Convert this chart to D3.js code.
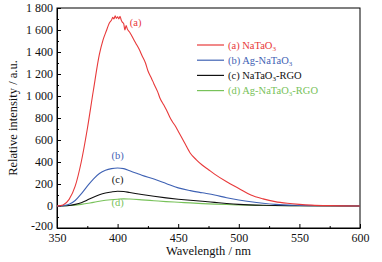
<!DOCTYPE html>
<html>
<head>
<meta charset="utf-8">
<script src="https://cdn.jsdelivr.net/npm/d3@7"></script>
<style>
  body { margin: 0; background: #fff; }
</style>
</head>
<body>
<div id="chart"></div>
<script>
'use strict';

// wavelengths (nm) and intensities
const waveA = [350, 355, 360, 365, 370, 375, 380, 385, 388, 391, 393, 395, 396, 397, 398, 399, 400, 401, 402, 403, 404, 405, 406, 407, 408, 410, 412, 415, 418, 420, 423, 425, 428, 430, 433, 435, 438, 440, 443, 445, 448, 450, 455, 460, 465, 470, 475, 480, 490, 500, 510, 520, 530, 540, 550, 560, 575, 600];
const valA  = [0, 10, 60, 180, 400, 700, 1050, 1380, 1510, 1600, 1660, 1690, 1715, 1700, 1730, 1705, 1720, 1700, 1725, 1690, 1670, 1660, 1600, 1640, 1610, 1580, 1540, 1480, 1420, 1370, 1300, 1230, 1160, 1110, 1040, 980, 920, 880, 810, 770, 720, 680, 580, 480, 420, 370, 330, 290, 220, 160, 100, 65, 40, 25, 15, 8, 3, 0];

const waveB = [350, 355, 360, 365, 370, 375, 380, 385, 390, 395, 400, 405, 410, 415, 420, 430, 440, 450, 460, 470, 480, 490, 500, 510, 520, 530, 550, 575, 600];
const valB  = [0, 3, 15, 50, 110, 180, 245, 295, 325, 340, 345, 340, 320, 300, 280, 245, 205, 165, 140, 120, 100, 75, 55, 38, 25, 15, 6, 2, 0];

const waveC = [350, 360, 365, 370, 375, 380, 385, 390, 395, 400, 405, 410, 420, 430, 440, 450, 460, 470, 480, 490, 500, 520, 550, 600];
const valC  = [0, 5, 15, 30, 55, 80, 102, 118, 128, 134, 132, 122, 104, 88, 74, 62, 52, 43, 33, 23, 15, 7, 3, 0];

const waveD = [350, 360, 370, 380, 390, 400, 405, 410, 420, 430, 440, 450, 460, 470, 480, 490, 500, 520, 550, 600];
const valD  = [0, 4, 15, 33, 52, 62, 65, 63, 56, 48, 40, 34, 28, 22, 17, 13, 10, 5, 2, 0];

const seriesNames = ["(a) NaTaO|3|", "(b) Ag-NaTaO|3|", "(c) NaTaO|3|-RGO", "(d) Ag-NaTaO|3|-RGO"];
const seriesTags = ["(a)", "(b)", "(c)", "(d)"];
const seriesColors = ["#e8393a", "#3f62b4", "#111111", "#78c25a"];

const xTicks = [350, 400, 450, 500, 550, 600];
const yTicks = [-200, 0, 200, 400, 600, 800, 1000, 1200, 1400, 1600, 1800];

const width = 382, height = 262;
const margin = {left: 57, right: 22, top: 8, bottom: 34};
const serif = "'Liberation Serif', 'Times New Roman', 'DejaVu Serif', serif";

const svg = d3.select("#chart").append("svg")
    .attr("width", width)
    .attr("height", height)
    .attr("font-family", serif);

const x = d3.scaleLinear().domain([350, 600]).range([margin.left, width - margin.right]);
const y = d3.scaleLinear().domain([-200, 1800]).range([height - margin.bottom, margin.top]);

const fmt = d3.formatLocale({decimal: ".", thousands: " ", grouping: [3], currency: ["", ""], minus: "-"}).format(",d");

// minor ticks
const xMinor = d3.range(375, 600, 50);
const yMinor = d3.range(-100, 1800, 200);

svg.append("g")
    .attr("transform", "translate(0," + y(-200) + ")")
    .call(d3.axisBottom(x).tickValues(xMinor).tickSize(-2).tickFormat(""))
    .call(g => g.select(".domain").remove());
svg.append("g")
    .attr("transform", "translate(" + x(350) + ",0)")
    .call(d3.axisLeft(y).tickValues(yMinor).tickSize(-2).tickFormat(""))
    .call(g => g.select(".domain").remove());

const xAxis = svg.append("g")
    .attr("transform", "translate(0," + y(-200) + ")")
    .call(d3.axisBottom(x).tickValues(xTicks).tickSizeInner(-4).tickSizeOuter(0).tickPadding(5).tickFormat(d => d));
xAxis.attr("font-family", serif).attr("font-size", 12);
xAxis.selectAll("text").attr("fill", "#111");

const yAxis = svg.append("g")
    .attr("transform", "translate(" + x(350) + ",0)")
    .call(d3.axisLeft(y).tickValues(yTicks).tickSizeInner(-4).tickSizeOuter(0).tickPadding(4).tickFormat(fmt));
yAxis.attr("font-family", serif).attr("font-size", 12);
yAxis.selectAll("text").attr("fill", "#111");
// lift the bottom label a touch so it clears the first x label
yAxis.selectAll(".tick text").filter(d => d === -200).attr("dy", "0.15em");

// frame
svg.append("rect")
    .attr("x", x(350)).attr("y", y(1800))
    .attr("width", x(600) - x(350)).attr("height", y(-200) - y(1800))
    .attr("fill", "none").attr("stroke", "#000").attr("stroke-width", 1);

const line = d3.line()
    .x(d => x(d[0]))
    .y(d => y(d[1]))
    .curve(d3.curveMonotoneX);

const waves = [waveA, waveB, waveC, waveD];
const vals = [valA, valB, valC, valD];

// draw from last to first so red stays on top
for (let i = 3; i >= 0; i--) {
    svg.append("path")
        .datum(d3.zip(waves[i], vals[i]))
        .attr("fill", "none")
        .attr("stroke", seriesColors[i])
        .attr("stroke-width", 1.1)
        .attr("d", line);
}

// curve tags
const tagPos = [[410, 1640], [400, 430], [400, 210], [400, 0]];
seriesTags.forEach((t, i) => {
    svg.append("text")
        .attr("x", x(tagPos[i][0]))
        .attr("y", y(tagPos[i][1]))
        .attr("text-anchor", i === 0 ? "start" : "middle")
        .attr("font-size", 10.5)
        .attr("fill", seriesColors[i])
        .text(t);
});

// legend
const legend = svg.append("g");
seriesNames.forEach((name, i) => {
    const ly = 45 + i * 15.2;
    legend.append("line")
        .attr("x1", 197).attr("x2", 224)
        .attr("y1", ly).attr("y2", ly)
        .attr("stroke", seriesColors[i]).attr("stroke-width", 1.2);
    const txt = legend.append("text")
        .attr("x", 228).attr("y", ly + 3.5)
        .attr("font-size", 10.5)
        .attr("fill", seriesColors[i]);
    name.split("|").forEach((part, k) => {
        if (part === "") return;
        const ts = txt.append("tspan").text(part);
        if (k % 2 === 1) ts.attr("font-size", 7).attr("dy", 2);
        else if (k > 0) ts.attr("dy", -2);
    });
});

// axis titles
svg.append("text")
    .attr("x", (x(350) + x(600)) / 2)
    .attr("y", 255)
    .attr("text-anchor", "middle")
    .attr("font-size", 12.5)
    .attr("fill", "#111")
    .text("Wavelength / nm");

svg.append("text")
    .attr("transform", "translate(17," + ((y(1800) + y(-200)) / 2) + ") rotate(-90)")
    .attr("text-anchor", "middle")
    .attr("font-size", 12.5)
    .attr("fill", "#111")
    .text("Relative intensity / a.u.");
</script>
</body>
</html>
